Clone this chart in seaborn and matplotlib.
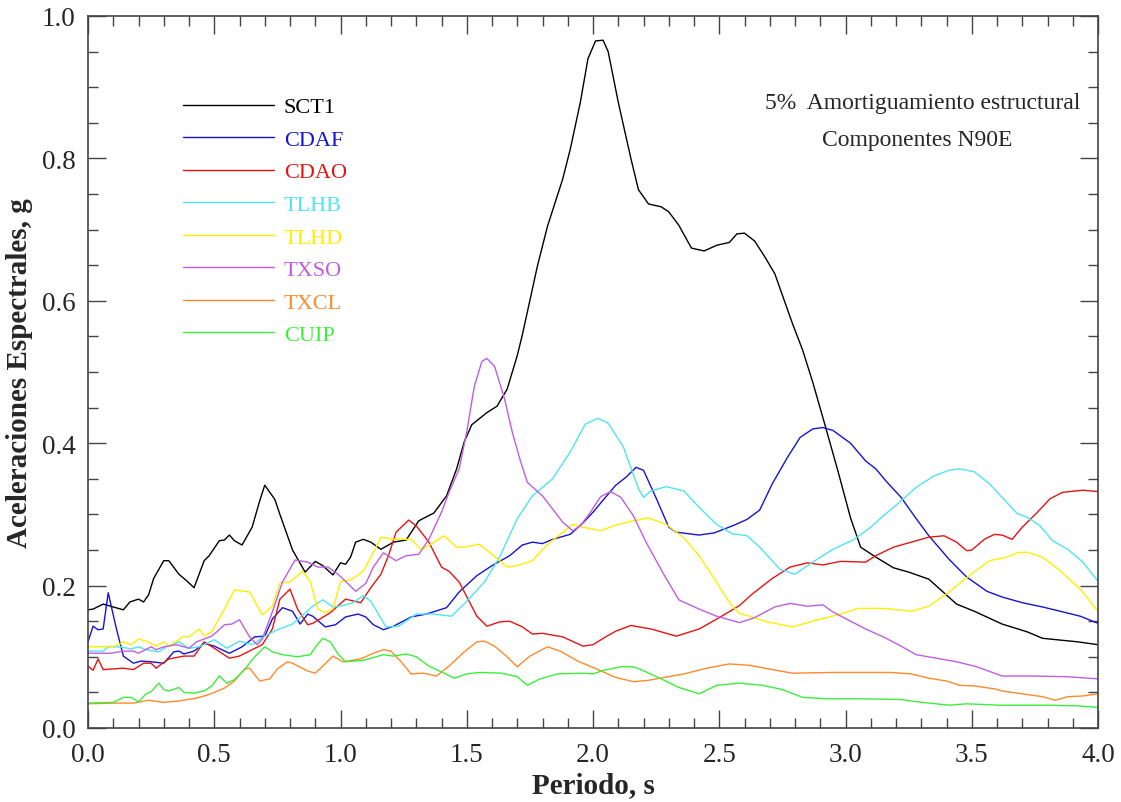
import numpy as np
import pandas as pd
import matplotlib
matplotlib.use("Agg")
import matplotlib.pyplot as plt
import seaborn as sns
from matplotlib.ticker import MultipleLocator

# ---------------- data ----------------
stations = ["SCT1", "CDAF", "CDAO", "TLHB", "TLHD", "TXSO", "TXCL", "CUIP"]
colors = ["#000000", "#1414d2", "#e51414", "#4ee4f4", "#ffee00", "#c05ee0", "#ff8a2a", "#3cee3c"]

sct1_t = [0, 0.02, 0.06, 0.10, 0.14, 0.166, 0.2, 0.22, 0.24, 0.26, 0.30, 0.32, 0.36, 0.39, 0.42, 0.46,
          0.48, 0.52, 0.54, 0.56, 0.58, 0.61, 0.65, 0.68, 0.70, 0.74, 0.76, 0.81, 0.86, 0.90, 0.93, 0.97,
          1.0, 1.02, 1.04, 1.06, 1.09, 1.12, 1.16, 1.21, 1.26, 1.31, 1.37, 1.42, 1.46, 1.49, 1.52, 1.58,
          1.62, 1.66, 1.70, 1.72, 1.78, 1.82, 1.88, 1.91, 1.95, 1.98, 2.01, 2.04, 2.06, 2.10, 2.15, 2.18,
          2.22, 2.27, 2.30, 2.34, 2.39, 2.44, 2.49, 2.54, 2.57, 2.60, 2.64, 2.68, 2.72, 2.79, 2.83, 2.87,
          2.92, 2.97, 3.02, 3.06, 3.12, 3.19, 3.25, 3.33, 3.44, 3.51, 3.62, 3.72, 3.78, 3.92, 4.0]
sct1_sa = [0.166, 0.167, 0.174, 0.170, 0.166, 0.177, 0.181, 0.177, 0.187, 0.210, 0.235, 0.235, 0.216, 0.207,
           0.197, 0.235, 0.242, 0.263, 0.264, 0.271, 0.263, 0.257, 0.282, 0.319, 0.341, 0.321, 0.300, 0.250,
           0.219, 0.234, 0.228, 0.215, 0.232, 0.230, 0.240, 0.261, 0.265, 0.261, 0.251, 0.261, 0.264, 0.291,
           0.302, 0.326, 0.364, 0.402, 0.426, 0.443, 0.452, 0.476, 0.523, 0.552, 0.649, 0.705, 0.771, 0.813,
           0.879, 0.940, 0.965, 0.966, 0.950, 0.879, 0.800, 0.756, 0.736, 0.732, 0.725, 0.706, 0.674, 0.670,
           0.678, 0.682, 0.694, 0.695, 0.684, 0.662, 0.638, 0.568, 0.531, 0.486, 0.424, 0.361, 0.295, 0.254,
           0.240, 0.225, 0.219, 0.209, 0.174, 0.164, 0.146, 0.135, 0.126, 0.121, 0.117]

cdaf_t = [0, 0.02, 0.04, 0.06, 0.08, 0.11, 0.14, 0.18, 0.21, 0.25, 0.30, 0.34, 0.36, 0.38, 0.42, 0.46, 0.50,
          0.56, 0.61, 0.66, 0.70, 0.73, 0.77, 0.81, 0.84, 0.87, 0.89, 0.94, 0.98, 1.02, 1.07, 1.10, 1.13,
          1.17, 1.21, 1.28, 1.34, 1.42, 1.47, 1.54, 1.60, 1.67, 1.72, 1.76, 1.80, 1.84, 1.91, 1.96, 2.0,
          2.04, 2.09, 2.13, 2.17, 2.20, 2.25, 2.30, 2.33, 2.42, 2.48, 2.56, 2.61, 2.66, 2.71, 2.77, 2.82,
          2.87, 2.91, 2.95, 3.02, 3.08, 3.12, 3.16, 3.22, 3.28, 3.33, 3.41, 3.48, 3.56, 3.62, 3.70, 3.78,
          3.85, 3.93, 4.0]
cdaf_sa = [0.121, 0.143, 0.138, 0.139, 0.190, 0.143, 0.101, 0.091, 0.094, 0.093, 0.091, 0.107, 0.108, 0.104,
           0.108, 0.119, 0.115, 0.105, 0.114, 0.128, 0.129, 0.153, 0.169, 0.164, 0.146, 0.160, 0.157, 0.142,
           0.145, 0.156, 0.160, 0.156, 0.145, 0.138, 0.143, 0.156, 0.160, 0.169, 0.191, 0.214, 0.228, 0.242,
           0.257, 0.261, 0.259, 0.265, 0.272, 0.288, 0.303, 0.320, 0.341, 0.352, 0.366, 0.362, 0.323, 0.282,
           0.275, 0.271, 0.274, 0.285, 0.293, 0.306, 0.343, 0.380, 0.408, 0.420, 0.422, 0.418, 0.400, 0.375,
           0.364, 0.347, 0.324, 0.294, 0.270, 0.237, 0.212, 0.192, 0.184, 0.176, 0.170, 0.164, 0.157, 0.147]

cdao_t = [0, 0.02, 0.04, 0.06, 0.10, 0.14, 0.18, 0.22, 0.25, 0.27, 0.28, 0.32, 0.38, 0.42, 0.46, 0.50, 0.56,
          0.60, 0.65, 0.69, 0.73, 0.76, 0.80, 0.83, 0.87, 0.89, 0.96, 1.02, 1.08, 1.12, 1.16, 1.19, 1.22,
          1.27, 1.30, 1.35, 1.40, 1.43, 1.47, 1.54, 1.58, 1.63, 1.67, 1.72, 1.76, 1.80, 1.88, 1.96, 2.0,
          2.05, 2.09, 2.15, 2.23, 2.33, 2.42, 2.50, 2.58, 2.63, 2.71, 2.78, 2.85, 2.91, 2.98, 3.08, 3.12,
          3.19, 3.26, 3.33, 3.39, 3.44, 3.48, 3.50, 3.55, 3.59, 3.62, 3.66, 3.70, 3.76, 3.81, 3.86, 3.94, 4.0]
cdao_sa = [0.087, 0.081, 0.097, 0.082, 0.083, 0.084, 0.082, 0.091, 0.091, 0.084, 0.087, 0.097, 0.101, 0.101,
           0.121, 0.112, 0.098, 0.101, 0.110, 0.117, 0.139, 0.181, 0.195, 0.167, 0.145, 0.147, 0.162, 0.181,
           0.176, 0.197, 0.216, 0.242, 0.275, 0.292, 0.284, 0.261, 0.226, 0.220, 0.205, 0.157, 0.143, 0.149,
           0.150, 0.142, 0.132, 0.133, 0.128, 0.115, 0.117, 0.128, 0.136, 0.144, 0.139, 0.129, 0.139, 0.155,
           0.172, 0.188, 0.210, 0.226, 0.232, 0.229, 0.234, 0.233, 0.242, 0.254, 0.261, 0.268, 0.270, 0.261,
           0.249, 0.250, 0.265, 0.272, 0.271, 0.265, 0.282, 0.303, 0.322, 0.331, 0.334, 0.332]

tlhb_t = [0, 0.06, 0.08, 0.13, 0.17, 0.20, 0.23, 0.28, 0.31, 0.36, 0.40, 0.44, 0.50, 0.55, 0.60, 0.65, 0.70,
          0.75, 0.81, 0.89, 0.93, 0.97, 1.01, 1.05, 1.09, 1.12, 1.18, 1.23, 1.30, 1.37, 1.44, 1.50, 1.57,
          1.63, 1.70, 1.76, 1.84, 1.91, 1.97, 2.02, 2.06, 2.12, 2.18, 2.20, 2.23, 2.29, 2.36, 2.42, 2.49,
          2.55, 2.61, 2.66, 2.74, 2.80, 2.87, 2.95, 3.03, 3.10, 3.15, 3.22, 3.28, 3.35, 3.41, 3.45, 3.51,
          3.57, 3.62, 3.68, 3.72, 3.77, 3.82, 3.88, 3.94, 4.0]
tlhb_sa = [0.108, 0.108, 0.114, 0.114, 0.111, 0.114, 0.110, 0.107, 0.114, 0.121, 0.112, 0.114, 0.124, 0.112,
           0.122, 0.117, 0.129, 0.138, 0.146, 0.171, 0.180, 0.170, 0.172, 0.176, 0.186, 0.178, 0.142, 0.143,
           0.160, 0.160, 0.157, 0.178, 0.205, 0.240, 0.294, 0.326, 0.350, 0.388, 0.427, 0.435, 0.428, 0.395,
           0.336, 0.324, 0.333, 0.339, 0.333, 0.310, 0.286, 0.273, 0.270, 0.254, 0.223, 0.216, 0.233, 0.251,
           0.264, 0.282, 0.298, 0.319, 0.338, 0.354, 0.362, 0.364, 0.360, 0.343, 0.324, 0.301, 0.296, 0.284,
           0.263, 0.251, 0.233, 0.206]

tlhd_t = [0, 0.06, 0.11, 0.14, 0.17, 0.20, 0.23, 0.27, 0.30, 0.32, 0.35, 0.38, 0.40, 0.44, 0.46, 0.49, 0.54,
          0.58, 0.64, 0.69, 0.73, 0.76, 0.80, 0.85, 0.88, 0.91, 0.94, 0.97, 1.0, 1.04, 1.09, 1.12, 1.16,
          1.21, 1.28, 1.32, 1.37, 1.41, 1.46, 1.49, 1.55, 1.59, 1.66, 1.70, 1.76, 1.82, 1.87, 1.92, 1.96,
          2.03, 2.09, 2.16, 2.22, 2.29, 2.36, 2.42, 2.48, 2.54, 2.58, 2.62, 2.69, 2.79, 2.88, 2.98, 3.05,
          3.13, 3.18, 3.26, 3.33, 3.41, 3.49, 3.57, 3.64, 3.68, 3.72, 3.78, 3.85, 3.93, 4.0]
tlhd_sa = [0.114, 0.114, 0.115, 0.121, 0.117, 0.125, 0.122, 0.115, 0.121, 0.115, 0.122, 0.129, 0.128, 0.139,
           0.129, 0.135, 0.167, 0.194, 0.191, 0.159, 0.171, 0.204, 0.205, 0.220, 0.206, 0.167, 0.162, 0.167,
           0.206, 0.208, 0.220, 0.240, 0.268, 0.265, 0.265, 0.250, 0.261, 0.270, 0.254, 0.254, 0.258, 0.247,
           0.226, 0.228, 0.235, 0.258, 0.272, 0.286, 0.282, 0.277, 0.285, 0.291, 0.295, 0.286, 0.267, 0.242,
           0.210, 0.176, 0.161, 0.157, 0.149, 0.142, 0.151, 0.160, 0.168, 0.168, 0.167, 0.164, 0.171, 0.191,
           0.214, 0.235, 0.240, 0.246, 0.247, 0.240, 0.221, 0.195, 0.164]

txso_t = [0, 0.09, 0.14, 0.18, 0.20, 0.25, 0.27, 0.30, 0.35, 0.40, 0.43, 0.46, 0.49, 0.51, 0.54, 0.57, 0.60,
          0.64, 0.67, 0.69, 0.73, 0.77, 0.82, 0.87, 0.91, 0.95, 0.99, 1.02, 1.06, 1.10, 1.13, 1.17, 1.22,
          1.26, 1.31, 1.35, 1.40, 1.43, 1.47, 1.50, 1.53, 1.56, 1.58, 1.61, 1.65, 1.68, 1.71, 1.74, 1.80,
          1.85, 1.88, 1.92, 1.95, 1.99, 2.03, 2.07, 2.11, 2.16, 2.21, 2.28, 2.34, 2.42, 2.49, 2.58, 2.64,
          2.72, 2.78, 2.85, 2.91, 2.95, 3.02, 3.08, 3.15, 3.22, 3.28, 3.36, 3.44, 3.52, 3.62, 3.74, 3.88, 4.0]
txso_sa = [0.105, 0.105, 0.108, 0.108, 0.105, 0.114, 0.110, 0.114, 0.117, 0.112, 0.121, 0.125, 0.129, 0.135,
           0.145, 0.146, 0.152, 0.128, 0.117, 0.125, 0.163, 0.205, 0.236, 0.233, 0.226, 0.226, 0.216, 0.206,
           0.192, 0.203, 0.226, 0.246, 0.235, 0.242, 0.244, 0.265, 0.303, 0.331, 0.364, 0.416, 0.480, 0.515,
           0.519, 0.508, 0.462, 0.416, 0.378, 0.345, 0.326, 0.303, 0.289, 0.277, 0.284, 0.303, 0.325, 0.332,
           0.324, 0.298, 0.261, 0.216, 0.180, 0.167, 0.157, 0.148, 0.155, 0.170, 0.175, 0.171, 0.173, 0.163,
           0.150, 0.139, 0.128, 0.115, 0.103, 0.098, 0.093, 0.086, 0.073, 0.073, 0.072, 0.069]

txcl_t = [0, 0.10, 0.18, 0.24, 0.30, 0.36, 0.43, 0.47, 0.50, 0.54, 0.58, 0.62, 0.64, 0.68, 0.72, 0.75, 0.79,
          0.81, 0.87, 0.90, 0.93, 0.97, 1.01, 1.08, 1.13, 1.17, 1.20, 1.24, 1.28, 1.33, 1.38, 1.43, 1.49,
          1.54, 1.57, 1.61, 1.66, 1.70, 1.75, 1.82, 1.87, 1.94, 2.02, 2.09, 2.16, 2.22, 2.36, 2.45, 2.54,
          2.62, 2.71, 2.79, 2.95, 3.18, 3.26, 3.33, 3.40, 3.45, 3.51, 3.59, 3.62, 3.70, 3.78, 3.83, 3.88,
          3.94, 4.0]
txcl_sa = [0.034, 0.035, 0.035, 0.039, 0.036, 0.038, 0.042, 0.046, 0.050, 0.056, 0.066, 0.083, 0.084, 0.066,
           0.069, 0.083, 0.093, 0.091, 0.080, 0.077, 0.087, 0.101, 0.093, 0.097, 0.105, 0.110, 0.108, 0.093,
           0.076, 0.077, 0.073, 0.087, 0.107, 0.121, 0.122, 0.115, 0.100, 0.086, 0.101, 0.114, 0.108, 0.094,
           0.082, 0.071, 0.065, 0.067, 0.076, 0.084, 0.090, 0.088, 0.082, 0.077, 0.078, 0.078, 0.076, 0.070,
           0.066, 0.060, 0.059, 0.055, 0.052, 0.048, 0.044, 0.039, 0.044, 0.045, 0.048]

cuip_t = [0, 0.10, 0.14, 0.17, 0.20, 0.23, 0.25, 0.28, 0.30, 0.32, 0.36, 0.38, 0.42, 0.46, 0.49, 0.52, 0.55,
          0.58, 0.62, 0.66, 0.70, 0.73, 0.77, 0.83, 0.88, 0.91, 0.93, 0.96, 0.99, 1.02, 1.09, 1.17, 1.21,
          1.26, 1.30, 1.35, 1.41, 1.45, 1.50, 1.55, 1.64, 1.70, 1.74, 1.79, 1.86, 1.96, 2.0, 2.04, 2.11,
          2.16, 2.19, 2.27, 2.34, 2.42, 2.49, 2.58, 2.67, 2.75, 2.83, 2.93, 3.06, 3.22, 3.28, 3.41, 3.48,
          3.61, 3.81, 3.92, 4.0]
cuip_sa = [0.035, 0.036, 0.043, 0.043, 0.037, 0.048, 0.051, 0.063, 0.054, 0.052, 0.057, 0.050, 0.049, 0.052,
           0.059, 0.073, 0.063, 0.068, 0.082, 0.100, 0.114, 0.107, 0.103, 0.100, 0.103, 0.118, 0.126, 0.121,
           0.104, 0.093, 0.095, 0.103, 0.101, 0.104, 0.100, 0.087, 0.077, 0.070, 0.076, 0.078, 0.077, 0.072,
           0.060, 0.069, 0.076, 0.077, 0.076, 0.081, 0.086, 0.086, 0.082, 0.069, 0.057, 0.048, 0.060, 0.063,
           0.060, 0.054, 0.043, 0.041, 0.041, 0.040, 0.037, 0.032, 0.034, 0.032, 0.032, 0.031, 0.029]

periods = [sct1_t, cdaf_t, cdao_t, tlhb_t, tlhd_t, txso_t, txcl_t, cuip_t]
accels = [sct1_sa, cdaf_sa, cdao_sa, tlhb_sa, tlhd_sa, txso_sa, txcl_sa, cuip_sa]

frames = []
for name, t, sa in zip(stations, periods, accels):
    frames.append(pd.DataFrame({"T": t, "Sa": sa, "station": name}))
df = pd.concat(frames, ignore_index=True)

# ---------------- plot ----------------
sns.set_style("white")
plt.rcParams["font.family"] = ["Liberation Serif", "DejaVu Serif"]

fig = plt.figure(figsize=(11.21, 8.03), dpi=100)
ax = fig.add_axes([88 / 1121, 1 - 729 / 803, (1098 - 88) / 1121, (729 - 17) / 803])

palette = dict(zip(stations, colors))
sns.lineplot(data=df, x="T", y="Sa", hue="station", hue_order=stations, palette=palette,
             estimator=None, sort=False, linewidth=1.0, ax=ax)

ax.set_xlim(0, 4)
ax.set_ylim(0, 1)
ax.xaxis.set_major_locator(MultipleLocator(0.5))
ax.xaxis.set_minor_locator(MultipleLocator(0.1))
ax.yaxis.set_major_locator(MultipleLocator(0.2))
ax.yaxis.set_minor_locator(MultipleLocator(0.05))
ax.xaxis.set_major_formatter(plt.FormatStrFormatter("%.1f"))
ax.yaxis.set_major_formatter(plt.FormatStrFormatter("%.1f"))
ax.tick_params(which="both", direction="in", top=True, right=True, bottom=True, left=True,
               color="#444444", width=1.0)
ax.tick_params(axis="x", which="major", length=13, labelsize=19.5, pad=10)
ax.tick_params(axis="y", which="major", length=13, labelsize=19.5, pad=9)
ax.tick_params(which="minor", length=7)
for s in ax.spines.values():
    s.set_color("#444444")
    s.set_linewidth(1.2)

ax.set_xlabel("Periodo, s", fontsize=21, fontweight="bold", labelpad=3)
ax.set_ylabel("Aceleraciones Espectrales, g", fontsize=21, fontweight="bold", labelpad=6)

leg = ax.legend(loc="upper left", bbox_to_anchor=(0.085, 0.899), frameon=False, fontsize=16,
                handlelength=4.1, handletextpad=0.45, labelspacing=0.54, labelcolor="linecolor",
                borderaxespad=0)
for line in leg.get_lines():
    line.set_linewidth(1.0)

ax.text(0.826, 0.878, "5%  Amortiguamiento estructural", transform=ax.transAxes,
        ha="center", va="center", fontsize=17)
ax.text(0.821, 0.827, "Componentes N90E", transform=ax.transAxes,
        ha="center", va="center", fontsize=17)

fig.savefig("out.png", dpi=100)
